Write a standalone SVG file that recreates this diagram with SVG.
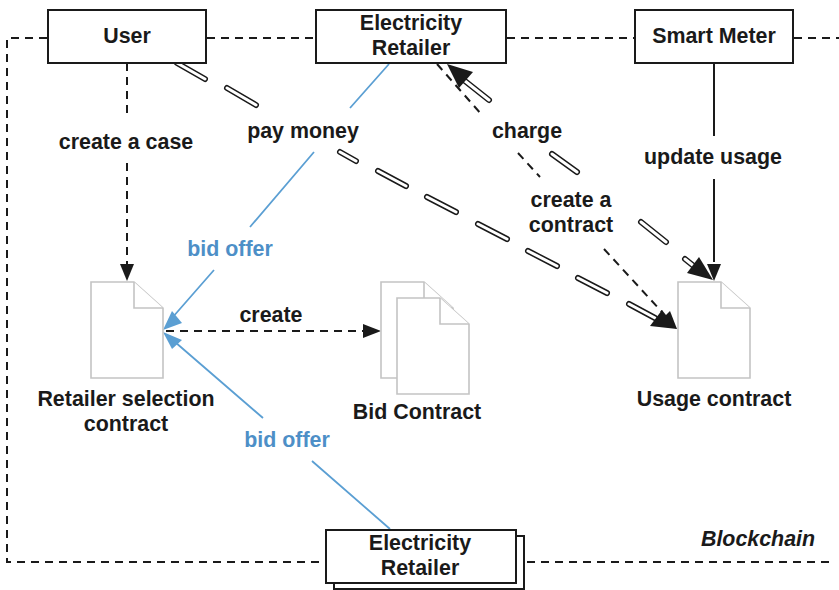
<svg xmlns="http://www.w3.org/2000/svg" width="839" height="590" viewBox="0 0 839 590">
<style>
text{font-family:"Liberation Sans",Arial,sans-serif;font-weight:700;font-size:21.4px;fill:#1a1a1a;text-anchor:middle}
.box{fill:#fff;stroke:#1a1a1a;stroke-width:2}
.doc{fill:#fff;stroke:#c4c4c4;stroke-width:1.6}
.dash{fill:none;stroke:#1a1a1a;stroke-width:2;stroke-dasharray:8 6}
.solid{fill:none;stroke:#1a1a1a;stroke-width:2}
.blue{fill:none;stroke:#5b9fd3;stroke-width:1.8}
text.bt{fill:#4d8fc7}
.ah{fill:#1a1a1a}
.bh{fill:#5b9fd3}
.o{fill:none;stroke:#1a1a1a;stroke-width:6;stroke-linecap:round}
.i{fill:none;stroke:#fff;stroke-width:3;stroke-linecap:round}
</style>
<g id="blockchain-boundary">
<path class="dash" d="M47 38H7V562H326M527 562H832M207 38H316M507 38H634M794 38H839"/>
<text x="758" y="546" style="font-style:italic">Blockchain</text>
</g>
<g id="connectors">
<path class="dash" d="M127 63V119M127 163V264"/>
<path class="ah" d="M127 281L120 264H134Z"/>
<path class="solid" d="M714 63V136M714 179V262"/>
<path class="ah" d="M714 281L707 264H721Z"/>
<path class="dash" d="M166 331H366"/>
<path class="ah" d="M381 331L363 324V338Z"/>
<path class="blue" d="M389 64L350 108M314 152L250 227M214 270L172 318"/>
<path class="bh" d="M163 330L172 311L182 323Z"/>
<path class="blue" d="M390 529L312 461M263 418L175 342"/>
<path class="bh" d="M163 332L182 340L172 349Z"/>
<path class="dash" d="M437 64L482 115M518 153L540 177M604 249L662 312"/>
<path class="ah" d="M677 329L660 321L670 311Z"/>
<g id="pay-money">
<path class="o" d="M177 63L205 79M227 88L256 105M340 152L356 161M378 171L406 186M427 197L456 212M478 224L507 239M528 251L557 266M578 278L607 293M629 304L655 318"/>
<path class="i" d="M177 63L205 79M227 88L256 105M340 152L356 161M378 171L406 186M427 197L456 212M478 224L507 239M528 251L557 266M578 278L607 293M629 304L655 318"/>
<path class="ah" d="M677 329L650 326L662 310Z"/>
</g>
<g id="charge">
<path class="o" d="M465 81L489 100M552 154L577 172M641 222L666 242M685 259L695 267"/>
<path class="i" d="M465 81L489 100M552 154L577 172M641 222L666 242M685 259L695 267"/>
<path class="ah" d="M447 64L473 72L459 88Z"/>
<path class="ah" d="M713 280L687 273L699 257Z"/>
</g>
</g>
<g id="user"><rect class="box" x="48" y="10" width="158" height="53"/><text x="127" y="43">User</text></g>
<g id="retailer-top"><rect class="box" x="316" y="10" width="190" height="53"/><text x="411" y="30">Electricity</text><text x="411" y="55">Retailer</text></g>
<g id="smart-meter"><rect class="box" x="635" y="10" width="158" height="53"/><text x="714" y="43">Smart Meter</text></g>
<g id="retailer-bottom"><rect class="box" x="334" y="536" width="190" height="53"/><rect class="box" x="326" y="530" width="190" height="53"/><text x="420" y="550">Electricity</text><text x="420" y="575">Retailer</text></g>
<g id="retailer-selection-contract"><path class="doc" d="M91 282H134L163 308V378H91Z"/><path class="doc" d="M134 282V308H163"/><text x="126" y="406">Retailer selection</text><text x="126" y="431">contract</text></g>
<g id="bid-contract"><path class="doc" d="M381 282H424L453 308V378H381Z"/><path class="doc" d="M424 282V308H453"/><path class="doc" d="M397 298H440L469 324V394H397Z"/><path class="doc" d="M440 298V324H469"/><text x="417" y="419">Bid Contract</text></g>
<g id="usage-contract"><path class="doc" d="M678 282H721L750 308V378H678Z"/><path class="doc" d="M721 282V308H750"/><text x="714" y="406">Usage contract</text></g>
<g id="labels">
<text x="126" y="149">create a case</text>
<text x="303" y="138">pay money</text>
<text x="527" y="138">charge</text>
<text x="571" y="207">create a</text>
<text x="571" y="232">contract</text>
<text x="713" y="164">update usage</text>
<text x="271" y="322">create</text>
<text class="bt" x="230" y="256">bid offer</text>
<text class="bt" x="287" y="447">bid offer</text>
</g>
</svg>
